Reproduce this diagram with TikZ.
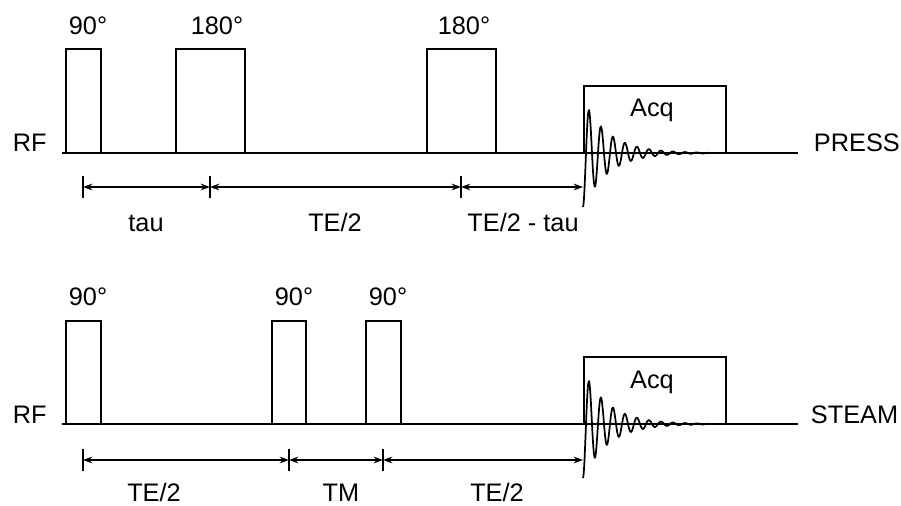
\documentclass[tikz,border=0pt]{standalone}
\usepackage{fontspec}
\setmainfont{Liberation Sans}
\usetikzlibrary{arrows.meta, positioning}

\begin{document}
\begin{tikzpicture}[x=0.75pt, y=-0.75pt, line width=1.4pt,
    txt/.style={font=\fontsize{19}{21}\selectfont, inner sep=0pt, anchor=base},
    tick/.style={line width=1.1pt},
    dim/.style={line width=1.1pt, {Stealth[length=7pt,width=5pt]}-{Stealth[length=7pt,width=5pt]}},
    fid/.style={line width=1.3pt}]
    \useasboundingbox (0,0) rectangle (901,506);

    % PRESS
    \draw (62,153) -- (798,153);
    \draw (66,153) rectangle (101,49);
    \draw (176,153) rectangle (245,49);
    \draw (427,153) rectangle (496,49);
    \draw (584,153) rectangle (726,86);
    \node[txt] (p90) at (88,35) {90°};
    \node[txt] (p180a) at (217,35) {180°};
    \node[txt] (p180b) at (464,35) {180°};
    \node[txt] (pacq) at (652,117) {Acq};
    \node[txt, anchor=base west] (prf) at (12,152) {RF};
    \node[txt, anchor=base west] (pname) at (813,152) {PRESS};
    \draw[fid] plot[domain=0:125, samples=400, smooth]
        ({583+\x}, {153+54*exp(-\x/25)*cos(30*\x)});

    \coordinate (pa) at (83,187);
    \coordinate (pb) at (210,187);
    \coordinate (pc) at (461,187);
    \coordinate (pd) at (583,187);
    \foreach \t in {83,210,461}
        \draw[tick] (\t,176) -- (\t,198);
    \draw[dim] (pa) -- (pb);
    \draw[dim] (pb) -- (pc);
    \draw[dim] (pc) -- (pd);
    \node[txt] (ptau) at (146,232) {tau};
    \node[txt] (pte) at (335,232) {TE/2};
    \node[txt] (ptetau) at (523,232) {TE/2 - tau};

    % STEAM
    \draw (62,424) -- (798,424);
    \draw (66,424) rectangle (101,321);
    \draw (272,424) rectangle (306,321);
    \draw (366,424) rectangle (401,321);
    \draw (584,424) rectangle (726,357);
    \node[txt] (s90a) at (88,306) {90°};
    \node[txt] (s90b) at (294,306) {90°};
    \node[txt] (s90c) at (388,306) {90°};
    \node[txt] (sacq) at (652,388) {Acq};
    \node[txt, anchor=base west] (srf) at (12,423) {RF};
    \node[txt, anchor=base west] (sname) at (810,423) {STEAM};
    \draw[fid] plot[domain=0:125, samples=400, smooth]
        ({583+\x}, {424+54*exp(-\x/25)*cos(30*\x)});

    \coordinate (sa) at (83,460);
    \coordinate (sb) at (289,460);
    \coordinate (sc) at (383,460);
    \coordinate (sd) at (583,460);
    \foreach \t in {83,289,383}
        \draw[tick] (\t,449) -- (\t,471);
    \draw[dim] (sa) -- (sb);
    \draw[dim] (sb) -- (sc);
    \draw[dim] (sc) -- (sd);
    \node[txt] (ste1) at (154,501) {TE/2};
    \node[txt] (stm) at (341,501) {TM};
    \node[txt] (ste2) at (497,501) {TE/2};
\end{tikzpicture}
\end{document}
